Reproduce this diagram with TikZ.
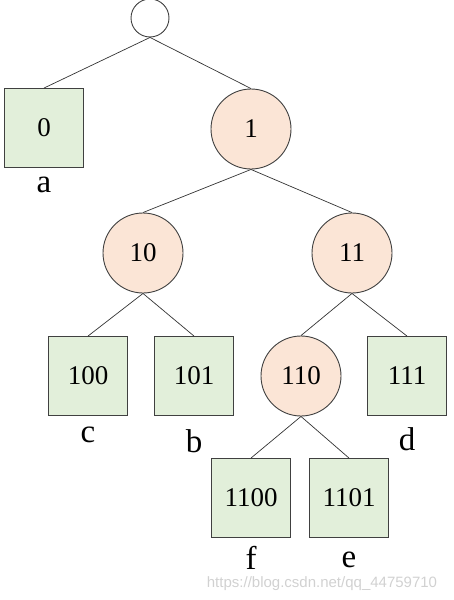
\documentclass[tikz,border=0pt]{standalone}
\usepackage{fontspec}
\setmainfont{Liberation Serif}
\newfontfamily\markfont{Liberation Sans}
\usepackage{tikz}

\definecolor{leafgreen}{HTML}{E2EFDA}
\definecolor{innerorange}{HTML}{FBE5D6}
\definecolor{edgegray}{HTML}{404040}

\tikzset{
  leaf/.style={draw=edgegray,line width=0.9pt,fill=leafgreen,minimum size=79pt,
    inner sep=0pt,font=\fontsize{27}{30}\selectfont},
  inner/.style={circle,draw=edgegray,line width=0.9pt,fill=innerorange,minimum size=80pt,
    inner sep=0pt,font=\fontsize{27}{30}\selectfont},
  rootnode/.style={circle,draw=edgegray,line width=0.9pt,fill=white,minimum size=38pt,inner sep=0pt},
  lab/.style={inner sep=0pt,font=\fontsize{33}{36}\selectfont},
  link/.style={draw=black!80,line width=0.7pt}
}

\begin{document}
\begin{tikzpicture}[x=1pt,y=-1pt]
  \useasboundingbox (0,0) rectangle (453,600);

  % Root
  \node[rootnode] (root) at (150,18) {};

  % Level 1
  \node[leaf] (n0) at (44,128) {0};
  \node[inner] (n1) at (251,129) {1};

  % Level 2
  \node[inner] (n10) at (143,253) {10};
  \node[inner] (n11) at (352,253) {11};

  % Level 3
  \node[leaf] (n100) at (88,376) {100};
  \node[leaf] (n101) at (194,376) {101};
  \node[inner] (n110) at (301,376) {110};
  \node[leaf] (n111) at (407,376) {111};

  % Level 4
  \node[leaf] (n1100) at (251,498) {1100};
  \node[leaf] (n1101) at (349,498) {1101};

  % Letters
  \node[lab] (la) at (44,185) {a};
  \node[lab] (lc) at (88,435) {c};
  \node[lab] (lb) at (194,441) {b};
  \node[lab] (ld) at (407,439) {d};
  \node[lab] (lf) at (251,558) {f};
  \node[lab] (le) at (349,560) {e};

  % Edges
  \draw[link] (root.south) -- (n0.north);
  \draw[link] (root.south) -- (n1.north);
  \draw[link] (n1.south) -- (n10.north);
  \draw[link] (n1.south) -- (n11.north);
  \draw[link] (n10.south) -- (n100.north);
  \draw[link] (n10.south) -- (n101.north);
  \draw[link] (n11.south) -- (n110.north);
  \draw[link] (n11.south) -- (n111.north);
  \draw[link] (n110.south) -- (n1100.north);
  \draw[link] (n110.south) -- (n1101.north);

  % Watermark
  \node[inner sep=0pt,font=\markfont\fontsize{15}{17}\selectfont,text=black!18] (wm) at (322,584) {https://blog.csdn.net/qq\_44759710};
\end{tikzpicture}
\end{document}
